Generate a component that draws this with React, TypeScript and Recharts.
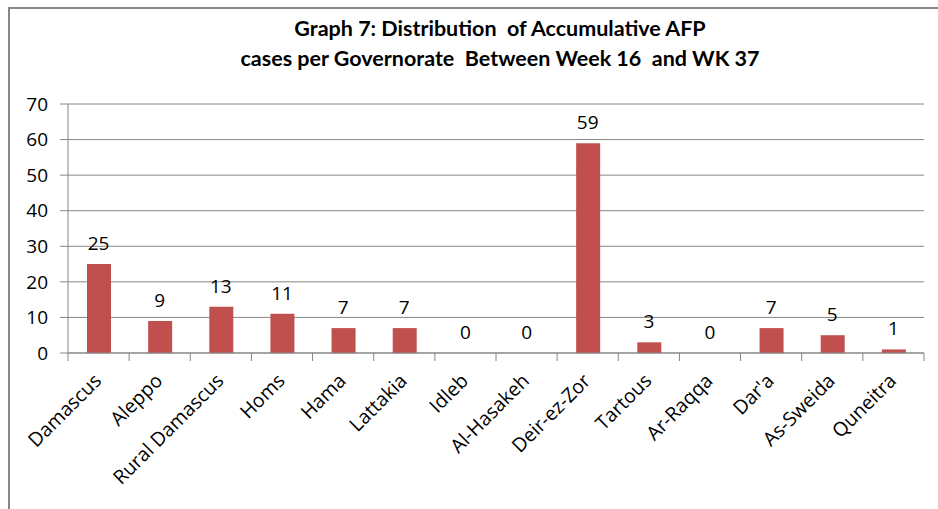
import { Bar, CartesianGrid, ComposedChart, LabelList, Line, XAxis, YAxis } from "recharts";

const governorates = [
  "Damascus",
  "Aleppo",
  "Rural Damascus",
  "Homs",
  "Hama",
  "Lattakia",
  "Idleb",
  "Al-Hasakeh",
  "Deir-ez-Zor",
  "Tartous",
  "Ar-Raqqa",
  "Dar'a",
  "As-Sweida",
  "Quneitra",
];
const afpCases = [25, 9, 13, 11, 7, 7, 0, 0, 59, 3, 0, 7, 5, 1];
const yTicks = [0, 10, 20, 30, 40, 50, 60, 70];

const titleLines = [
  "Graph 7: Distribution  of Accumulative AFP",
  "cases per Governorate  Between Week 16  and WK 37",
];

const data = governorates.map((name, i) => ({ name, cases: afpCases[i] }));

const FONT = "'Open Sans', Lato, sans-serif";
const TITLE_FONT = "Lato, 'Open Sans', sans-serif";
const GRAY = "#868686";

function GovTick(props: any) {
  const { x, y, payload, index } = props;
  const half = payload?.offset ?? 30.6;
  const isLast = index === governorates.length - 1;
  return (
    <g>
      <line x1={x - half} y1={y} x2={x - half} y2={y + 8} stroke={GRAY} />
      {isLast && <line x1={x + half} y1={y} x2={x + half} y2={y + 8} stroke={GRAY} />}
      <text
        transform={`translate(${x + 4},${y + 29}) rotate(-45)`}
        textAnchor="end"
        fill="#000"
        fontSize={19.5}
        fontFamily={FONT}
      >
        {payload.value}
      </text>
    </g>
  );
}

export default function App() {
  return (
    <div style={{ position: "absolute", left: 0, top: 0, width: 938, height: 509, background: "#fff", overflow: "hidden" }}>
      <div
        style={{
          position: "absolute",
          left: 8,
          top: 7,
          width: 960,
          height: 520,
          borderLeft: `2px solid ${GRAY}`,
          borderTop: `2px solid ${GRAY}`,
        }}
      />
      <svg style={{ position: "absolute", left: 0, top: 0 }} width={938} height={80}>
        <text x={500} y={36} textAnchor="middle" fontFamily={TITLE_FONT} fontWeight="bold" fontSize={21.5} fill="#000" style={{ whiteSpace: "pre" }}>
          {titleLines[0]}
        </text>
        <text x={500} y={66} textAnchor="middle" fontFamily={TITLE_FONT} fontWeight="bold" fontSize={21.5} fill="#000" style={{ whiteSpace: "pre" }}>
          {titleLines[1]}
        </text>
      </svg>
      <div style={{ position: "absolute", left: 0, top: 0 }}>
        <ComposedChart width={938} height={509} data={data} margin={{ top: 104, right: 14, bottom: 0, left: 0 }}>
          <CartesianGrid vertical={false} stroke={GRAY} />
          <XAxis
            dataKey="name"
            interval={0}
            height={156}
            tickSize={0}
            tickMargin={0}
            tickLine={false}
            axisLine={{ stroke: GRAY }}
            tick={<GovTick />}
          />
          <YAxis
            domain={[0, 70]}
            ticks={yTicks}
            width={68}
            tickSize={8}
            tickMargin={12}
            axisLine={{ stroke: GRAY }}
            tickLine={{ stroke: GRAY }}
            tick={{ fill: "#000", fontSize: 19, fontFamily: FONT }}
          />
          <Bar dataKey="cases" fill="#C0504D" barSize={24} isAnimationActive={false} />
          <Line dataKey="cases" stroke="none" dot={false} activeDot={false} isAnimationActive={false}>
            <LabelList dataKey="cases" position="top" offset={14} fill="#000" fontSize={19} fontFamily={FONT} />
          </Line>
        </ComposedChart>
      </div>
    </div>
  );
}
